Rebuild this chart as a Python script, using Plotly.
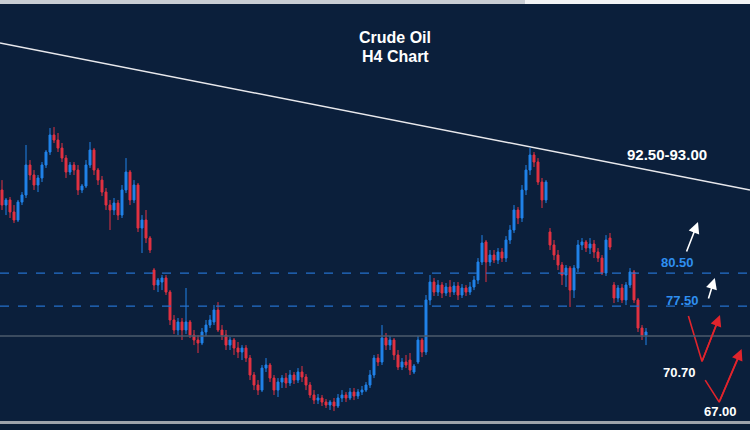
import plotly.graph_objects as go

# H4 candles (index = bar number), prices
opens = [88.05, 86.68, 87.14, 86.05, 85.32, 86.95, 87.59, 90.32, 89.41, 88.50,
         89.14, 90.32, 91.50, 93.05, 92.59, 91.86, 90.95, 89.68, 90.32, 89.86,
         88.05, 88.41, 90.32, 91.68, 89.86, 88.95, 87.86, 86.68, 86.23, 86.86,
         85.77, 88.05, 89.68, 87.14, 88.50, 84.59, 85.32, 83.68, 80.77, 79.41,
         79.68, 80.05, 78.77, 76.23, 75.32, 76.05, 75.32, 76.05, 74.86, 74.41,
         74.14, 75.14, 75.77, 76.05, 77.14, 75.32, 74.86, 73.95, 74.41, 73.68,
         73.32, 73.68, 72.77, 71.23, 70.32, 69.86, 71.86, 72.14, 70.95, 69.86,
         70.59, 70.95, 70.50, 71.23, 70.77, 71.50, 71.05, 70.32, 69.41, 68.95,
         69.14, 68.77, 68.50, 68.77, 68.41, 69.14, 69.41, 69.14, 69.68, 69.32,
         69.68, 69.86, 70.32, 71.23, 72.77, 72.41, 74.59, 73.95, 74.41, 73.05,
         71.95, 72.41, 72.59, 71.50, 72.41, 74.41, 73.32, 78.05, 79.68, 78.77,
         79.41, 78.68, 79.23, 78.77, 79.32, 78.50, 79.14, 78.77, 79.23, 79.86,
         81.50, 83.32, 81.50, 82.14, 81.68, 82.41, 81.86, 83.50, 84.41, 86.23,
         85.50, 88.05, 89.86, 91.23, 90.59, 88.77, 87.14, 84.23, 83.05, 82.14,
         81.23, 80.32, 80.95, 78.95, 80.95, 83.05, 83.32, 82.77, 83.14, 82.41,
         81.86, 80.50, 83.68, 79.41, 78.23, 79.14, 78.05, 79.41, 80.59, 78.05,
         75.50, 74.86]
highs = [88.95, 87.32, 87.41, 86.68, 87.14, 87.86, 92.14, 90.77, 89.86, 89.41,
         90.59, 91.68, 93.68, 93.77, 93.23, 92.32, 91.23, 90.59, 90.59, 90.32,
         88.59, 90.77, 92.41, 91.86, 90.05, 89.32, 88.23, 87.14, 87.32, 87.14,
         88.50, 90.95, 89.86, 88.95, 88.68, 85.77, 86.23, 83.86, 80.95, 80.05,
         80.32, 80.32, 78.95, 76.68, 76.41, 76.41, 79.14, 76.23, 75.32, 74.86,
         75.50, 76.23, 76.68, 77.59, 77.86, 75.77, 75.32, 74.68, 74.59, 74.23,
         73.95, 73.95, 73.05, 71.50, 70.77, 72.14, 72.77, 72.32, 71.23, 70.95,
         71.23, 71.41, 71.68, 71.50, 71.86, 72.05, 71.32, 70.59, 69.86, 69.50,
         69.41, 69.05, 68.95, 69.14, 69.50, 69.86, 69.68, 70.05, 70.05, 69.95,
         70.23, 70.59, 71.68, 73.05, 73.14, 75.77, 75.05, 74.77, 74.59, 73.50,
         72.77, 73.05, 73.23, 72.23, 74.77, 74.59, 78.50, 80.32, 80.05, 79.86,
         79.68, 79.59, 79.86, 79.68, 79.68, 79.50, 79.41, 79.68, 80.23, 81.86,
         83.95, 83.50, 82.59, 82.59, 82.77, 82.77, 83.86, 84.86, 86.68, 86.50,
         88.50, 90.32, 91.86, 91.50, 90.95, 89.14, 88.95, 84.59, 83.50, 82.59,
         81.50, 81.23, 81.14, 81.23, 83.50, 83.68, 83.50, 83.68, 83.50, 82.77,
         82.14, 83.95, 84.14, 79.68, 79.41, 79.50, 79.68, 80.95, 80.77, 78.23,
         75.77, 75.50]
lows = [86.23, 85.77, 85.50, 85.05, 85.14, 86.68, 87.32, 88.95, 88.05, 87.86,
        88.77, 90.05, 91.23, 92.32, 91.50, 90.59, 89.14, 89.41, 89.41, 87.59,
        87.77, 88.23, 90.05, 89.41, 88.50, 87.50, 86.23, 84.41, 85.77, 85.32,
        85.50, 87.77, 86.68, 86.86, 84.23, 82.32, 83.23, 82.32, 78.95, 78.77,
        78.95, 78.50, 75.77, 74.95, 74.86, 74.41, 74.95, 74.59, 73.95, 73.23,
        73.95, 74.77, 75.50, 75.77, 75.14, 74.41, 73.50, 73.50, 73.05, 72.77,
        72.59, 72.41, 70.77, 69.86, 69.41, 69.68, 71.50, 70.59, 69.41, 69.23,
        70.05, 70.05, 70.23, 70.41, 70.50, 70.59, 69.86, 69.14, 68.59, 68.59,
        68.41, 68.23, 68.05, 67.95, 68.23, 68.77, 68.77, 68.95, 68.95, 69.05,
        69.41, 69.68, 70.05, 70.95, 72.05, 72.14, 73.50, 73.50, 72.59, 71.68,
        71.68, 71.86, 71.23, 71.32, 72.23, 72.86, 73.05, 77.59, 78.41, 78.41,
        78.23, 78.41, 78.32, 78.50, 78.05, 78.23, 78.41, 78.50, 78.95, 79.50,
        81.23, 79.68, 81.14, 81.41, 81.32, 81.50, 81.50, 83.14, 84.14, 84.95,
        85.14, 87.59, 89.41, 90.14, 88.50, 86.41, 86.86, 82.59, 81.68, 80.77,
        79.41, 79.23, 77.41, 78.23, 80.59, 82.59, 82.41, 82.23, 81.86, 81.50,
        80.32, 80.23, 82.59, 77.77, 77.86, 77.77, 77.59, 79.14, 77.77, 75.14,
        74.41, 73.95]
closes = [86.68, 87.14, 86.05, 85.32, 86.95, 87.59, 90.32, 89.41, 88.50, 89.14,
          90.32, 91.50, 93.05, 92.59, 91.86, 90.95, 89.68, 90.32, 89.86, 88.05,
          88.41, 90.32, 91.68, 89.86, 88.95, 87.86, 86.68, 86.23, 86.86, 85.77,
          88.05, 89.68, 87.14, 88.50, 84.59, 85.32, 83.68, 82.59, 79.41, 79.86,
          80.05, 78.77, 76.23, 75.32, 76.05, 75.32, 76.05, 74.86, 74.41, 74.14,
          75.14, 75.77, 76.23, 77.14, 75.32, 74.86, 73.95, 74.41, 73.68, 73.32,
          73.68, 72.77, 71.23, 70.32, 69.86, 71.86, 72.14, 70.95, 69.86, 70.59,
          70.95, 70.50, 71.23, 70.77, 71.50, 71.05, 70.32, 69.41, 68.95, 69.14,
          68.77, 68.50, 68.77, 68.41, 69.14, 69.41, 69.14, 69.68, 69.32, 69.68,
          69.86, 70.32, 71.23, 72.77, 72.41, 74.59, 73.95, 74.41, 73.05, 71.95,
          72.41, 72.14, 71.68, 72.05, 74.41, 73.32, 78.05, 79.68, 78.77, 79.41,
          78.68, 79.23, 78.77, 79.32, 78.50, 79.14, 78.77, 79.23, 79.86, 81.50,
          83.23, 81.50, 82.14, 81.68, 82.41, 81.86, 83.50, 84.41, 86.23, 85.50,
          88.05, 89.86, 91.23, 90.59, 88.77, 87.14, 88.77, 83.05, 82.14, 81.23,
          80.32, 80.95, 78.95, 80.95, 83.05, 83.32, 82.77, 83.14, 82.41, 81.86,
          80.50, 83.50, 82.86, 78.23, 79.14, 78.05, 79.41, 80.59, 78.05, 75.50,
          74.86, 75.14]
bars = list(range(len(closes)))

# drawn levels and trend line
support_levels = [80.50, 77.50]
current_level = 74.77
trend_x = [-0.5, 187.0]
trend_y = [101.41, 88.05]

# scenario arrows (bar, price)
white_arrows = [((171.0, 82.32), (174.0, 85.14)), ((176.5, 78.05), (178.2, 80.05))]
red_path_1_x = [171.6, 175.0, 179.5]
red_path_1_y = [76.59, 72.45, 76.68]
red_path_2_x = [175.8, 179.3, 184.9]
red_path_2_y = [70.77, 68.77, 73.59]

labels = ["92.50-93.00", "80.50", "77.50", "70.70", "67.00"]
label_x = [166.2, 168.8, 170.0, 169.3, 179.5]
label_y = [91.23, 81.50, 78.00, 71.50, 67.89]
label_sizes = [15, 13, 13, 13, 13]
label_colors = ["white", "#2f8ff0", "#2f8ff0", "white", "white"]

bg = "#0b1f3b"
fig = go.Figure()

fig.add_trace(go.Candlestick(
    x=bars, open=opens, high=highs, low=lows, close=closes,
    increasing=dict(line=dict(color="#2183ea", width=1), fillcolor="#2183ea"),
    decreasing=dict(line=dict(color="#e23242", width=1), fillcolor="#e23242"),
    whiskerwidth=0, showlegend=False, hoverinfo="skip"))

fig.add_trace(go.Scatter(x=trend_x, y=trend_y, mode="lines",
                         line=dict(color="#e8e8ec", width=1.5),
                         showlegend=False, hoverinfo="skip"))

for lvl in support_levels:
    fig.add_hline(y=lvl, line=dict(color="#2470cc", width=1.3, dash="dash"))
fig.add_hline(y=current_level, line=dict(color="#4d5b6d", width=1.5))

for px_, py_ in [(red_path_1_x, red_path_1_y), (red_path_2_x, red_path_2_y)]:
    fig.add_trace(go.Scatter(x=px_[:-1] + [px_[-1] - 0.3], y=py_[:-1] + [py_[-1] - 0.35],
                             mode="lines", line=dict(color="#e0242c", width=1.6),
                             showlegend=False, hoverinfo="skip"))
    fig.add_annotation(x=px_[-1], y=py_[-1], ax=px_[-2], ay=py_[-2],
                       xref="x", yref="y", axref="x", ayref="y", text="",
                       showarrow=True, arrowhead=2, arrowsize=1.4, arrowwidth=1.6,
                       arrowcolor="#e0242c")

for (tx, ty), (hx, hy) in white_arrows:
    fig.add_annotation(x=hx, y=hy, ax=tx, ay=ty, xref="x", yref="y",
                       axref="x", ayref="y", text="", showarrow=True,
                       arrowhead=2, arrowsize=1.4, arrowwidth=1.6, arrowcolor="white")

for t, x, y, s, c in zip(labels, label_x, label_y, label_sizes, label_colors):
    fig.add_annotation(x=x, y=y, text="<b>%s</b>" % t, showarrow=False,
                       font=dict(family="Liberation Sans, Arial", size=s, color=c))

title_font = dict(family="Liberation Sans Narrow, Arial Narrow, Liberation Sans",
                  size=16, color="white")
fig.add_annotation(x=0.527, y=1 - 27 / 430, xref="paper", yref="paper",
                   text="<b>Crude Oil</b>", showarrow=False, font=title_font)
fig.add_annotation(x=0.527, y=1 - 46 / 430, xref="paper", yref="paper",
                   text="<b>H4 Chart</b>", showarrow=False, font=title_font)

# window frame: top strip, sub-window separator
fig.add_shape(type="rect", xref="paper", yref="paper", x0=0, x1=0.7, y0=1 - 4 / 430, y1=1,
              fillcolor="#c9cdd4", line_width=0, layer="above")
fig.add_shape(type="rect", xref="paper", yref="paper", x0=0.7, x1=1, y0=1 - 4 / 430, y1=1,
              fillcolor="#f2f3f5", line_width=0, layer="above")
fig.add_shape(type="rect", xref="paper", yref="paper", x0=0, x1=1,
              y0=1 - 424 / 430, y1=1 - 421 / 430,
              fillcolor="#9ea3aa", line_width=0, layer="above")
fig.add_shape(type="rect", xref="paper", yref="paper", x0=0, x1=1, y0=0, y1=1 - 424 / 430,
              fillcolor="#0a1d36", line_width=0, layer="above")

fig.update_layout(
    width=750, height=430,
    margin=dict(l=0, r=0, t=0, b=0),
    paper_bgcolor=bg, plot_bgcolor=bg,
    xaxis=dict(range=[-0.5, 187.0], visible=False, rangeslider=dict(visible=False)),
    yaxis=dict(range=[66.23, 105.32], visible=False),
)

fig.write_html("out.html", config={"displayModeBar": False},
               post_script="document.body.style.margin='0';document.body.style.background='%s';" % bg)
